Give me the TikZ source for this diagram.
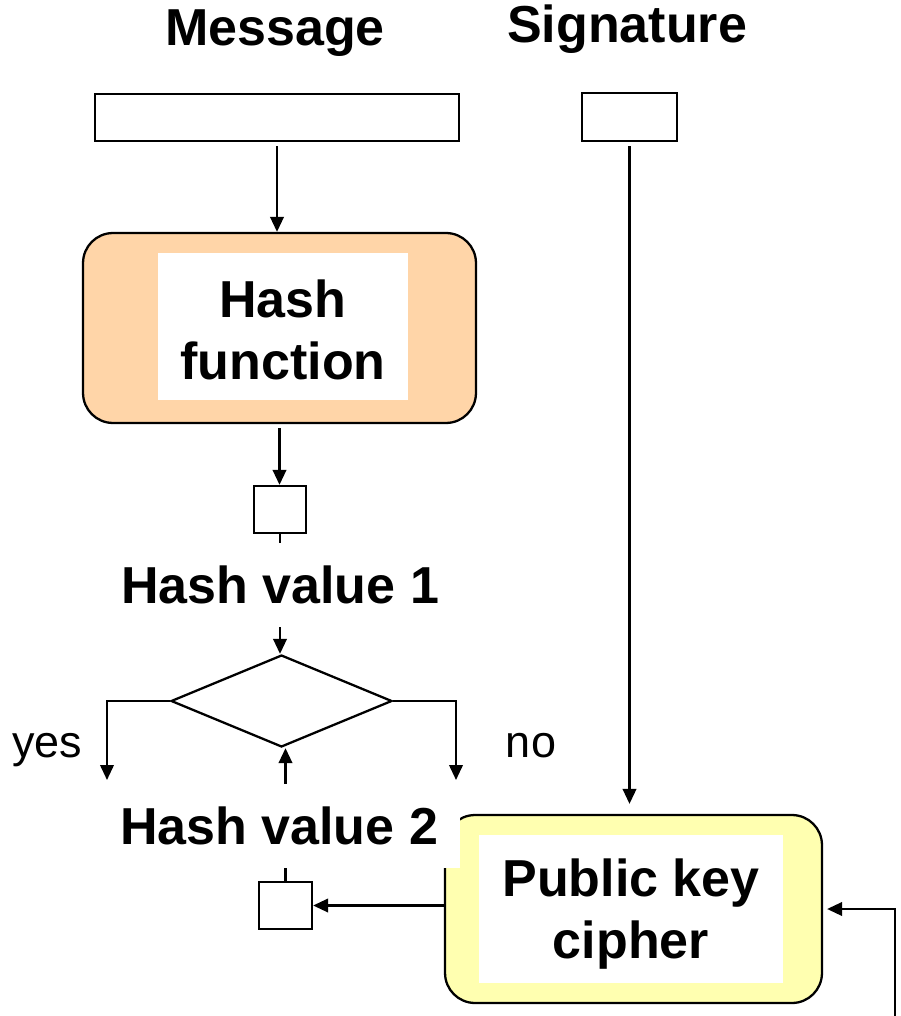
\documentclass[tikz,border=0pt]{standalone}
\usepackage{fontspec}
\setmainfont{Liberation Sans}
\usetikzlibrary{arrows.meta,shapes.geometric}
\definecolor{peach}{RGB}{255,213,168}
\definecolor{paleyellow}{RGB}{255,255,176}

\begin{document}
\begin{tikzpicture}[x=0.02cm,y=-0.02cm,
  line width=1.3pt,
  arr/.style={-{Triangle[length=0.3cm,width=0.27cm]}},
  bigtext/.style={font=\fontsize{29.6pt}{35pt}\selectfont\bfseries},
  smalltext/.style={font=\fontsize{25.6pt}{30pt}\selectfont},
  slot/.style={draw, fill=white, inner sep=0pt},
  stage/.style={draw, rounded corners=0.6cm, inner sep=0pt},
  panel/.style={fill=white, inner sep=0pt},
  panelname/.style={bigtext, align=center, inner sep=0pt},
  caption/.style={bigtext, fill=white, inner xsep=0.44cm, inner ysep=0pt, minimum height=1.68cm}
]
\useasboundingbox (0,0) rectangle (900,1016);

% titles
\node[bigtext, anchor=base] (msgtitle) at (275,46) {Message};
\node[bigtext, anchor=base] (sigtitle) at (627,43) {Signature};

% input fields
\node[slot, minimum width=7.28cm, minimum height=0.94cm] (msg) at (277,117.5) {};
\node[slot, minimum width=1.9cm, minimum height=0.96cm] (sig) at (629.5,117) {};

% hash function stage
\node[stage, fill=peach, minimum width=7.86cm, minimum height=3.8cm] (hash) at (279.5,328) {};
\node[panel, minimum width=5cm, minimum height=2.94cm] (hashpanel) at (283,326.5) {};
\node[panelname] (hashname) at (283,330) {Hash\\function};

% first hash value
\node[slot, minimum width=1.04cm, minimum height=0.94cm] (hv1) at (280,509.5) {};

% comparison
\node[draw, diamond, aspect=2.4, minimum width=4.42cm, minimum height=1.84cm, inner sep=0pt] (cmp) at (281.5,701) {};

% public key cipher stage
\node[stage, fill=paleyellow, minimum width=7.54cm, minimum height=3.76cm] (cipher) at (633.5,909) {};
\node[panel, minimum width=6.08cm, minimum height=2.96cm] (cipherpanel) at (631,909) {};
\node[panelname] (ciphername) at (631,914) {Public key\\cipher};

% second hash value
\node[slot, minimum width=1.06cm, minimum height=0.94cm] (hv2) at (285.5,905.5) {};

% loose ends
\coordinate (yesend) at (107,780);
\coordinate (noend) at (456,780);
\coordinate (keyin) at (895,1016);

% connectors
\draw[arr, shorten <=0.08cm] (msg.south) -- (msg.south |- hash.north);
\draw[arr, shorten <=0.08cm] (hash.south) -- (hash.south |- hv1.north);
\draw[arr] (hv1.south) -- (hv1.south |- cmp.north);
\draw[arr] (cmp.west) -| (yesend);
\draw[arr] (cmp.east) -| (noend);
\draw[arr] (hv2.north) -- (hv2.north |- cmp.south);
\draw[arr, shorten <=0.08cm, shorten >=0.2cm] (sig.south) -- (sig.south |- cipher.north);
\draw[arr] (hv2.east -| cipher.west) -- (hv2.east);
\draw[arr, shorten >=0.08cm] (keyin) |- (cipher.east);

% labels
\node[caption] (hv1label) at (280,585) {Hash value 1};
\node[caption] (hv2label) at (279,826) {Hash value 2};
\node[smalltext, anchor=base] (yes) at (47,757) {yes};
\node[smalltext, anchor=base] (no) at (531,757) {no};
\end{tikzpicture}
\end{document}
